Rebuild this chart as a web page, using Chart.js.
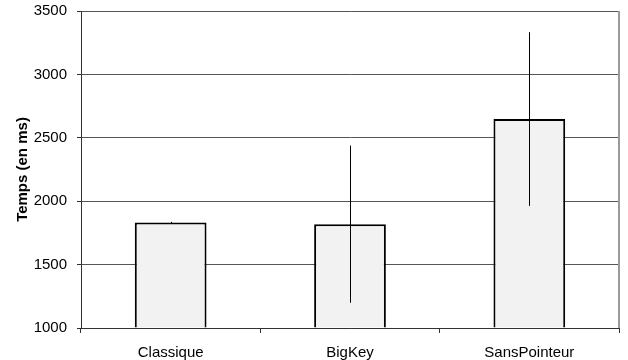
<!DOCTYPE html>
<html>
<head>
<meta charset="utf-8">
<script src="https://cdn.jsdelivr.net/npm/chart.js@4.4.1/dist/chart.umd.min.js"></script>
<style>
  html, body { margin: 0; padding: 0; background: #ffffff; }
  #wrap { width: 628px; height: 360px; position: relative; }
</style>
</head>
<body>
<div id="wrap"><canvas id="c" width="628" height="360"></canvas></div>
<script>
const categories = ["Classique", "BigKey", "SansPointeur"];
const meanTimes = [1832, 1819, 2648];
const errorAmounts = [5, 620, 685];
const yTicks = [1000, 1500, 2000, 2500, 3000, 3500];
const yAxisTitle = "Temps (en ms)";

const FONT = "'Liberation Sans', Arial, sans-serif";

const errorBarPlugin = {
  id: 'errorBars',
  afterDatasetsDraw(chart) {
    const ctx = chart.ctx;
    const meta = chart.getDatasetMeta(0);
    const y = chart.scales.y;
    ctx.save();
    ctx.strokeStyle = '#000000';
    ctx.lineWidth = 1;
    meta.data.forEach((bar, i) => {
      const x = Math.round(bar.x) + 0.5;
      const top = y.getPixelForValue(meanTimes[i] + errorAmounts[i]);
      const bot = y.getPixelForValue(meanTimes[i] - errorAmounts[i]);
      ctx.beginPath();
      ctx.moveTo(x, top);
      ctx.lineTo(x, bot);
      ctx.stroke();
    });
    ctx.restore();
  }
};

const frameRightPlugin = {
  id: 'frameRight',
  beforeDatasetsDraw(chart) {
    const {ctx, chartArea} = chart;
    ctx.save();
    ctx.strokeStyle = '#9a9a9a';
    ctx.lineWidth = 2;
    ctx.beginPath();
    ctx.moveTo(chartArea.right, chartArea.top);
    ctx.lineTo(chartArea.right, chartArea.bottom);
    ctx.stroke();
    ctx.restore();
  }
};

new Chart(document.getElementById('c'), {
  type: 'bar',
  data: {
    labels: categories,
    datasets: [{
      data: meanTimes,
      backgroundColor: '#f2f2f2',
      borderColor: '#000000',
      borderWidth: 2,
      barPercentage: 0.4,
      categoryPercentage: 1.0,
      base: 1000
    }]
  },
  options: {
    responsive: false,
    animation: false,
    devicePixelRatio: 1,
    layout: { padding: { left: 0, top: 11, right: 9, bottom: 0 } },
    plugins: {
      legend: { display: false },
      tooltip: { enabled: false },
      title: { display: false }
    },
    scales: {
      x: {
        offset: true,
        afterFit(scale) { scale.height = 32; scale.paddingLeft = 0; scale.paddingRight = 0; },
        grid: {
          offset: true,
          drawOnChartArea: false,
          drawTicks: true,
          tickLength: 5,
          color: '#333333',
          tickColor: '#333333'
        },
        border: { display: true, color: '#333333', width: 1 },
        ticks: {
          color: '#000000',
          padding: 11,
          font: { family: FONT, size: 15 }
        }
      },
      y: {
        min: 1000,
        max: 3500,
        afterFit(scale) { scale.width = 81; scale.paddingTop = 0; scale.paddingBottom = 0; },
        afterBuildTicks(scale) { scale.ticks = yTicks.map(v => ({ value: v })); },
        grid: {
          drawTicks: true,
          tickLength: 4,
          color: '#555555',
          tickColor: '#333333',
          lineWidth: 1
        },
        border: { display: true, color: '#333333', width: 1 },
        ticks: {
          color: '#000000',
          padding: 10,
          font: { family: FONT, size: 15 },
          callback: (v) => String(v)
        },
        title: {
          display: true,
          text: yAxisTitle,
          color: '#000000',
          padding: { top: 14, bottom: 0 },
          font: { family: FONT, size: 15, weight: 'bold' }
        }
      }
    }
  },
  plugins: [frameRightPlugin, errorBarPlugin]
});
</script>
</body>
</html>
